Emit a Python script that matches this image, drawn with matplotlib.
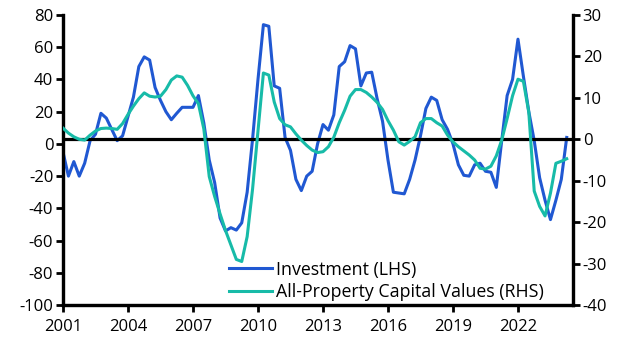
import numpy as np
import matplotlib
matplotlib.use("Agg")
import matplotlib.pyplot as plt

plt.rcParams['font.family'] = ['Open Sans', 'DejaVu Sans']
plt.rcParams['axes.unicode_minus'] = False

start_year = 2001
investment = [-5, -20, -11, -20, -12, 2, 6, 19, 16, 9, 2, 5, 17, 29, 48, 54, 52, 35, 27, 20,
              15, 19, 22.7, 22.7, 22.7, 30, 13, -10, -24, -46, -54, -52, -53.5, -49, -30, 3, 40, 74, 73, 36,
              34.5, 4, -4, -22, -29, -20, -17, 0, 12, 8.5, 18, 48, 51, 61, 59, 36, 44, 44.5, 28, 14,
              -10, -30, -30.5, -31, -22, -10, 5, 22, 29, 27, 15, 9, 0, -13, -19.5, -20, -13, -12, -17, -17.6,
              -27, 2, 30, 40, 65, 42, 20, 2, -21, -35, -47, -35, -22, 4]
capital_values = [2.7, 1.5, 0.6, 0, -0.2, 1.0, 2.0, 2.6, 2.7, 2.6, 2.4, 3.8, 6, 8, 9.8, 11.2, 10.4, 10.2, 10.4, 12,
                  14.3, 15.3, 15, 13, 10.5, 8.6, 2.5, -9, -13.8, -18, -22, -25.5, -29, -29.5, -23.5, -12, 2, 16, 15.5, 9,
                  5, 3.5, 3, 1.3, -0.2, -1.5, -2.6, -3.2, -3, -1.8, 0.5, 4, 7, 10.4, 12, 12, 11.3, 10.2, 8.9, 7.2,
                  4.5, 2.2, -0.6, -1.4, -0.5, 0.6, 4, 5, 5, 4, 3.2, 1, -0.6, -1.8, -2.8, -3.8, -5, -7, -7.2, -6.5,
                  -4, -0.2, 5, 10.5, 14.5, 14, 6.5, -12.5, -16.2, -18.5, -13, -5.8, -5.3, -4.7]
x_ticks = [2001, 2004, 2007, 2010, 2013, 2016, 2019, 2022]
left_ticks = list(range(-100, 81, 20))
right_ticks = list(range(-40, 31, 10))

t = start_year + np.arange(len(investment)) / 4.0

W, H = 626, 351
fig = plt.figure(figsize=(W / 100, H / 100), dpi=100)
ax = fig.add_axes([63 / W, (H - 305) / H, 510 / W, 290 / H])
ax2 = ax.twinx()

blue = "#2058D2"
teal = "#17BBA8"
lw_sp = 2.3
fs = 12

l1, = ax.plot(t, investment, color=blue, lw=2.2, label="Investment (LHS)", zorder=3)
ax2.axhline(0, color="black", lw=2.3, zorder=1)
l2, = ax2.plot(t, capital_values, color=teal, lw=2.2, label="All-Property Capital Values (RHS)", zorder=3)

ax.set_ylim(-100, 80)
ax2.set_ylim(-40, 30)
ax.set_xlim(2001, 2024.54)
ax.set_yticks(left_ticks)
ax2.set_yticks(right_ticks)
ax.set_xticks(x_ticks)
ax.set_xticklabels([str(v) for v in x_ticks])

for a in (ax, ax2):
    a.spines['top'].set_visible(False)
    for s in ('left', 'right', 'bottom'):
        a.spines[s].set_linewidth(lw_sp)
        a.spines[s].set_color("black")
    a.tick_params(axis='both', length=5, width=2, labelsize=fs, colors="black", pad=2)
ax.tick_params(axis='x', pad=5)

leg = ax2.legend(handles=[l1, l2], loc='center left', bbox_to_anchor=(0.3255, 0.083),
                 frameon=False, fontsize=12.8, handlelength=2.42, handletextpad=0.22,
                 labelspacing=0.26, borderpad=0.0, borderaxespad=0.0)

fig.savefig("out.png", dpi=100)
